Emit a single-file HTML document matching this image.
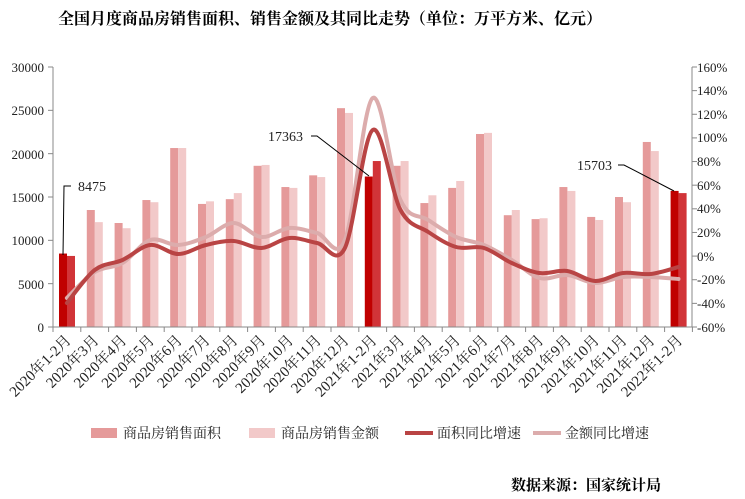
<!DOCTYPE html>
<html><head><meta charset="utf-8"><style>
body{margin:0;background:#fff;}
svg{display:block;font-family:"Liberation Serif","Noto Serif CJK SC",serif;}
</style></head><body>
<svg id="s" width="745" height="499" viewBox="0 0 745 499" xmlns="http://www.w3.org/2000/svg">
<text x="58" y="24" font-size="16" font-weight="bold" font-family="'Liberation Serif','Noto Serif CJK SC',serif">全国月度商品房销售面积、销售金额及其同比走势（单位：万平方米、亿元）</text>
<g font-size="13" fill="#222" text-anchor="end">
<text x="44" y="72">30000</text><text x="44" y="115">25000</text><text x="44" y="159">20000</text><text x="44" y="202">15000</text><text x="44" y="245">10000</text><text x="44" y="289">5000</text><text x="44" y="332">0</text>
</g>
<g font-size="13" fill="#222" text-anchor="start">
<text x="697" y="72">160%</text><text x="697" y="95">140%</text><text x="697" y="119">120%</text><text x="697" y="142">100%</text><text x="697" y="166">80%</text><text x="697" y="190">60%</text><text x="697" y="213">40%</text><text x="697" y="237">20%</text><text x="697" y="261">0%</text><text x="697" y="284">-20%</text><text x="697" y="308">-40%</text><text x="697" y="332">-60%</text>
</g>
<g id="bars"></g>
<g id="axes" stroke="#888" stroke-width="1"></g>
<g id="lines" fill="none" stroke-linecap="round"></g>
<g font-size="15" fill="#222" id="xl">
<text>2020年1-2月</text><text>2020年3月</text><text>2020年4月</text><text>2020年5月</text><text>2020年6月</text><text>2020年7月</text><text>2020年8月</text><text>2020年9月</text><text>2020年10月</text><text>2020年11月</text><text>2020年12月</text><text>2021年1-2月</text><text>2021年3月</text><text>2021年4月</text><text>2021年5月</text><text>2021年6月</text><text>2021年7月</text><text>2021年8月</text><text>2021年9月</text><text>2021年10月</text><text>2021年11月</text><text>2021年12月</text><text>2022年1-2月</text>
</g>
<g stroke="#000" stroke-width="1" fill="none">
<polyline points="63,255 64,186 71,186"/>
<polyline points="311,136 317,136 369,176"/>
<polyline points="618,165 624,165 674,191"/>
</g>
<g font-size="14" fill="#222">
<text x="78" y="191">8475</text>
<text x="268" y="141">17363</text>
<text x="577" y="170">15703</text>
</g>
<g font-size="14" fill="#222">
<rect x="91" y="428" width="26" height="10" fill="#e59a9a"/><text x="123" y="438">商品房销售面积</text>
<rect x="249" y="428" width="26" height="10" fill="#f2c9c9"/><text x="281" y="438">商品房销售金额</text>
<line x1="405" y1="433" x2="433" y2="433" stroke="#b94444" stroke-width="4"/><text x="437" y="438">面积同比增速</text>
<line x1="533" y1="433" x2="561" y2="433" stroke="#dcacac" stroke-width="4"/><text x="565" y="438">金额同比增速</text>
</g>
<text x="511" y="490" font-size="15" font-weight="bold">数据来源：国家统计局</text>
</svg>
<script>
var NS="http://www.w3.org/2000/svg";
var x0=53,w=27.8,y0=327,H=260;
var A=[8475,13500,12000,14650,20650,14200,14750,18600,16150,17500,25250,17363,18600,14300,16050,22270,12900,12450,16150,12700,15000,21350,15703];
var M=[8200,12100,11400,14400,20650,14500,15450,18700,16050,17300,24700,19150,19150,15200,16850,22400,13500,12550,15700,12350,14400,20300,15450];
var L1=[303,270,260,245,254,245,241,248,238,243,248,130,210,232,247,248,263,273,271,281,273,274,267];
var L2=[298,272,263,240,245,237,223,237,228,233,240,98,200,220,237,245,260,278,275,283,277,277,279];
function el(t,a,p){var e=document.createElementNS(NS,t);for(var k in a)e.setAttribute(k,a[k]);p.appendChild(e);return e;}
var bars=document.getElementById('bars'),ax=document.getElementById('axes'),ln=document.getElementById('lines');
var hi={0:1,11:1,22:1};
for(var i=0;i<23;i++){
 var s=x0+w*i;
 var h1=A[i]/30000*H,h2=M[i]/30000*H;
 el('rect',{x:s+6,y:y0-h1,width:8,height:h1,fill:hi[i]?'#c00000':'#e59a9a'},bars);
 el('rect',{x:s+14,y:y0-h2,width:8,height:h2,fill:hi[i]?'#d13438':'#f2c9c9'},bars);
}
el('line',{x1:x0,y1:67,x2:x0,y2:y0},ax);
el('line',{x1:692,y1:67,x2:692,y2:y0},ax);
el('line',{x1:x0,y1:y0,x2:692,y2:y0},ax);
for(var i=0;i<=23;i++){var x=x0+w*i;el('line',{x1:x,y1:y0,x2:x,y2:y0+5},ax);}
for(var j=0;j<=6;j++){var y=67+j*H/6;el('line',{x1:x0-5,y1:y,x2:x0,y2:y},ax);}
for(var j=0;j<=11;j++){var y=67+j*H/11;el('line',{x1:692,y1:y,x2:697,y2:y},ax);}
function path(Y){var P=Y.map(function(y,i){return [x0+w*(i+0.5),y];});
 var d='M'+P[0][0]+','+P[0][1];
 for(var i=0;i<P.length-1;i++){var p0=P[i-1]||P[i],p1=P[i],p2=P[i+1],p3=P[i+2]||p2;
  d+=' C'+(p1[0]+(p2[0]-p0[0])/6)+','+(p1[1]+(p2[1]-p0[1])/6)+' '+(p2[0]-(p3[0]-p1[0])/6)+','+(p2[1]-(p3[1]-p1[1])/6)+' '+p2[0]+','+p2[1];}
 return d;}
el('path',{d:path(L2),stroke:'#dcacac','stroke-width':4},ln);
el('path',{d:path(L1),stroke:'#b94444','stroke-width':4},ln);
var t=document.getElementById('xl').children;
for(var i=0;i<t.length;i++){var cx=x0+w*(i+0.5)+5,cy=341;
 t[i].setAttribute('x',cx);t[i].setAttribute('y',cy);t[i].setAttribute('text-anchor','end');
 t[i].setAttribute('transform','rotate(-45 '+cx+' '+cy+')');}
</script>
</body></html>
